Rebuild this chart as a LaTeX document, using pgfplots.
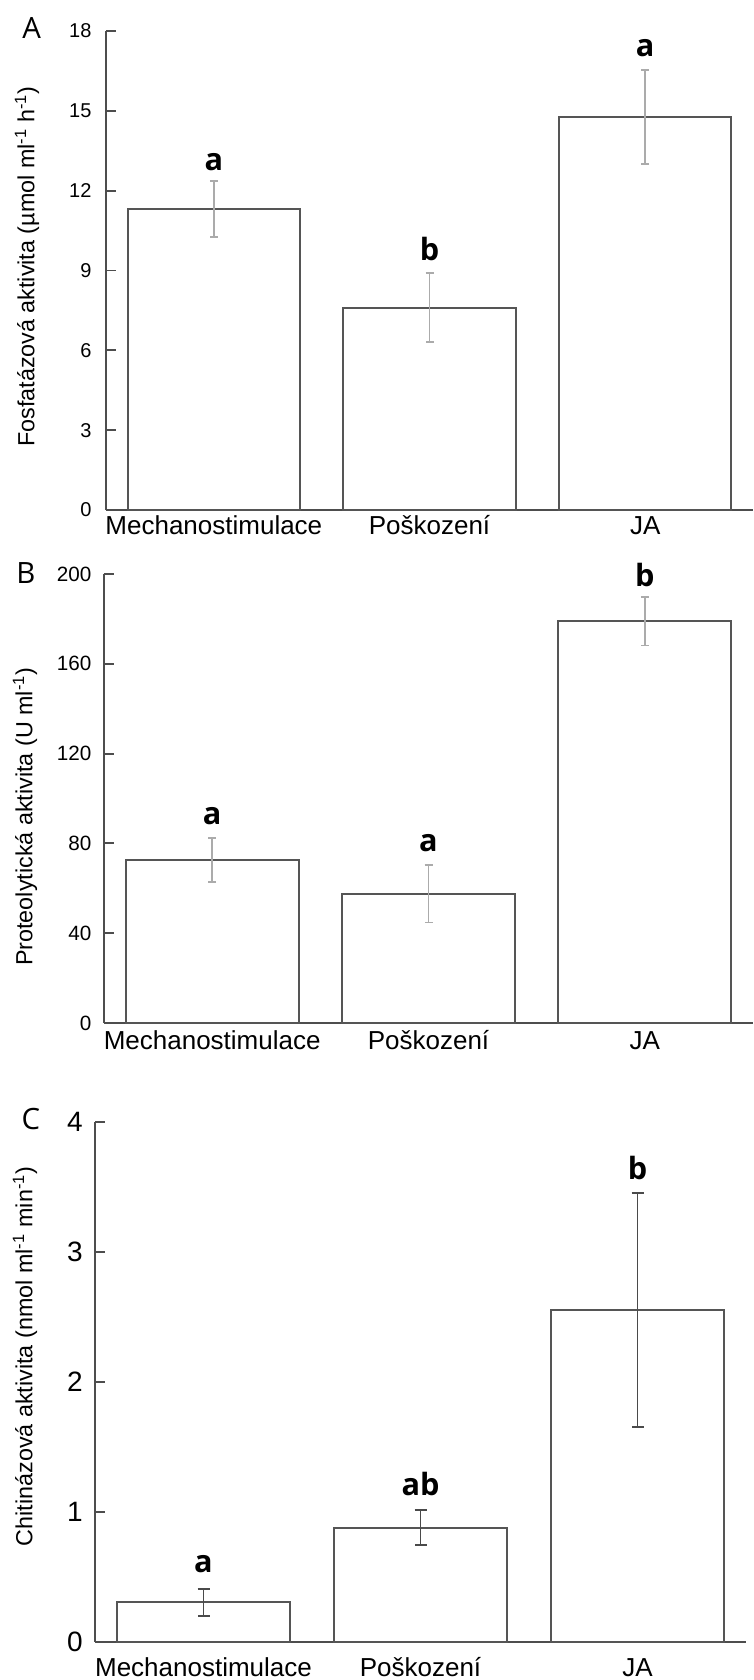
\documentclass[border=0pt]{standalone}
\usepackage{fontspec}
\setmainfont{Liberation Sans}
\newfontfamily\osans{Open Sans}
\usepackage{pgfplots}
\pgfplotsset{compat=1.18}
\definecolor{edgegray}{HTML}{555555}
\definecolor{axisgray}{HTML}{4D4D4D}
\definecolor{errlight}{HTML}{ABABAB}
\definecolor{errdark}{HTML}{4A4A4A}

\pgfplotstableread{
x y e
0 11.30 1.055
1 7.60 1.29
2 14.77 1.77
}\tabA
\pgfplotstableread{
x y e
0 72.7 9.8
1 57.6 12.85
2 178.9 10.75
}\tabB
\pgfplotstableread{
x y e
0 0.304 0.105
1 0.880 0.137
2 2.557 0.900
}\tabC

\pgfplotsset{
  panel/.style={
    scale only axis, clip=false,
    xmin=-0.5, xmax=2.5, ymin=0,
    axis x line*=bottom, axis y line*=left,
    axis line style={-, draw=axisgray, line width=1.4pt},
    xtick={0,1,2}, xticklabels={Mechanostimulace, Poškození, JA},
    xtick style={draw=none},
    tick align=inside, major tick length=7.5pt,
    ytick style={draw=axisgray, line width=1.4pt},
    /pgf/number format/assume math mode=true,
    ylabel style={anchor=center, font=\fontsize{17.5}{19}\selectfont},
  },
  barstyle/.style={ybar, bar width=0.8, bar shift=0pt, fill=white, draw=edgegray, line width=1.5pt},
}
\tikzset{letter/.style={anchor=base, font=\osans\bfseries\fontsize{23}{25}\selectfont},
  panelletter/.style={anchor=base, font=\osans\fontsize{22}{24}\selectfont}}

\begin{document}
\begin{tikzpicture}
% ---------- A ----------
\begin{axis}[panel, at={(79.5pt,877.5pt)}, anchor=south west,
  width=485.25pt, height=359.25pt, ymax=18, ytick={0,3,...,18},
  yticklabel style={anchor=east, inner sep=0pt, xshift=-10.7pt, font=\fontsize{15}{17}\selectfont},
  xticklabel style={anchor=base, inner sep=0pt, yshift=-18.5pt, font=\fontsize{19.5}{21}\selectfont},
  ylabel={Fosfatázová aktivita (µmol ml\textsuperscript{-1} h\textsuperscript{-1})},
  ylabel style={at={(axis description cs:-0.122,0.508)}}]
\addplot[barstyle, error bars/.cd, y dir=both, y explicit,
  error bar style={draw=errlight, line width=1.4pt},
  error mark options={rotate=90, draw=errlight, line width=1.4pt, mark size=3pt}]
  table[x=x, y=y, y error=e] {\tabA};
\node[letter, yshift=7.6pt] at (axis cs:0,12.36) {a};
\node[letter, yshift=10pt] at (axis cs:1,8.89) {b};
\node[letter, yshift=10pt] at (axis cs:2,16.53) {a};
\end{axis}
% ---------- B ----------
\begin{axis}[panel, at={(78pt,492.75pt)}, anchor=south west,
  width=486.75pt, height=336.75pt, ymax=200, ytick={0,40,...,200},
  yticklabel style={anchor=east, inner sep=0pt, xshift=-9.2pt, font=\fontsize{15.5}{17}\selectfont},
  xticklabel style={anchor=base, inner sep=0pt, yshift=-20pt, font=\fontsize{19.5}{21}\selectfont},
  ylabel={Proteolytická aktivita (U ml\textsuperscript{-1})},
  ylabel style={at={(axis description cs:-0.1217,0.459)}}]
\addplot[barstyle, error bars/.cd, y dir=both, y explicit,
  error bar style={draw=errlight, line width=1.4pt},
  error mark options={rotate=90, draw=errlight, line width=1.4pt, mark size=3pt}]
  table[x=x, y=y, y error=e] {\tabB};
\node[letter, yshift=10.2pt] at (axis cs:0,82.5) {a};
\node[letter, yshift=10pt] at (axis cs:1,70.5) {a};
\node[letter, yshift=7.9pt] at (axis cs:2,189.65) {b};
\end{axis}
% ---------- C ----------
\begin{axis}[panel, at={(71.25pt,28.5pt)}, anchor=south west,
  width=488.25pt, height=390pt, ymax=4, ytick={0,1,...,4},
  yticklabel style={anchor=east, inner sep=0pt, xshift=-9pt, font=\fontsize{21}{23}\selectfont},
  xticklabel style={anchor=base, inner sep=0pt, yshift=-26pt, font=\fontsize{19.5}{21}\selectfont},
  ylabel={Chitinázová aktivita (nmol ml\textsuperscript{-1} min\textsuperscript{-1})},
  ylabel style={at={(axis description cs:-0.1075,0.549)}}]
\addplot[barstyle, error bars/.cd, y dir=both, y explicit,
  error bar style={draw=errdark, line width=1.4pt},
  error mark options={rotate=90, draw=errdark, line width=1.4pt, mark size=4.5pt}]
  table[x=x, y=y, y error=e] {\tabC};
\node[letter, yshift=12pt] at (axis cs:0,0.409) {a};
\node[letter, yshift=10.8pt] at (axis cs:1,1.017) {ab};
\node[letter, yshift=9.5pt] at (axis cs:2,3.457) {b};
\end{axis}
% panel letters
\node[panelletter] at (23.7pt,1230.75pt) {A};
\node[panelletter] at (19.5pt,822pt) {B};
\node[panelletter] at (23.25pt,412.5pt) {C};
\pgfresetboundingbox
\path[use as bounding box] (0,0) rectangle (564.75pt,1260pt);
\end{tikzpicture}
\end{document}
